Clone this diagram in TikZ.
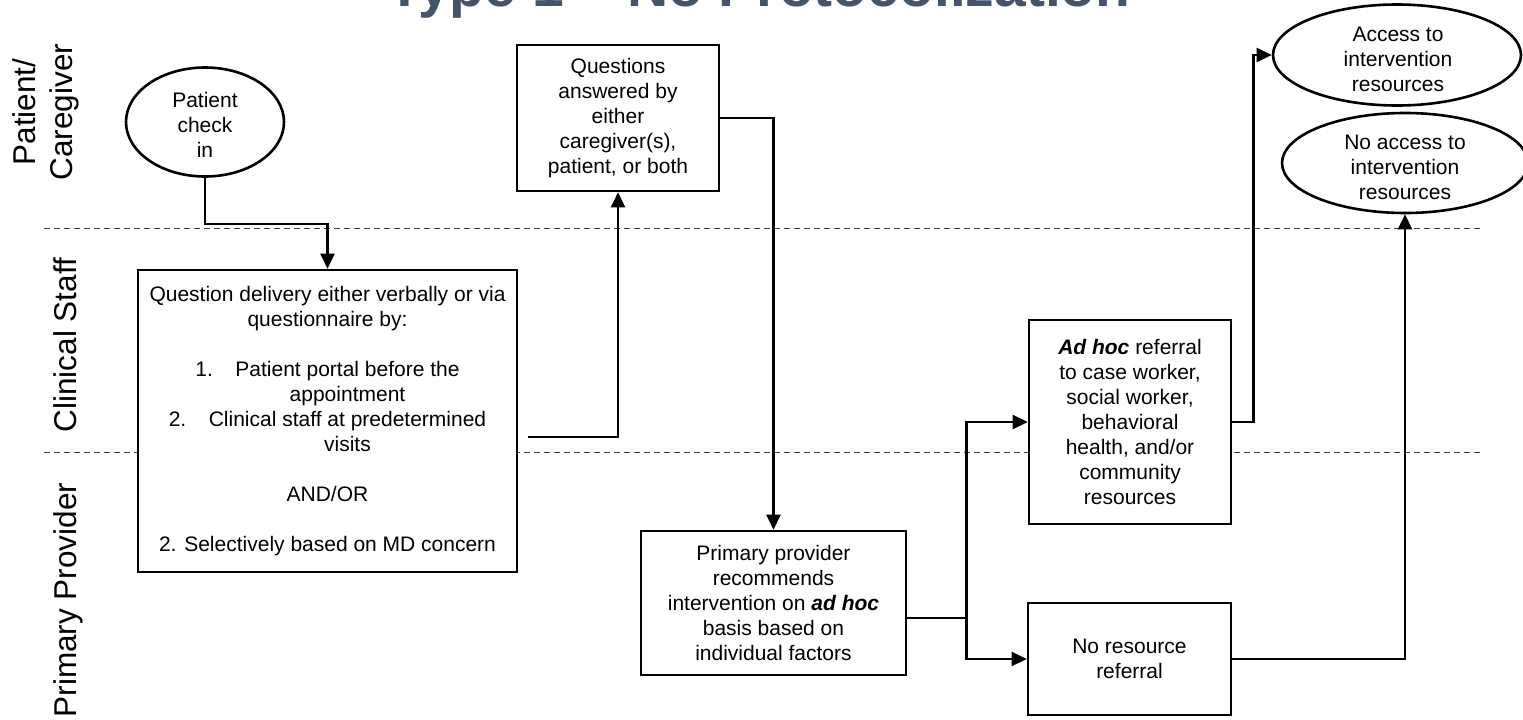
\documentclass[tikz,border=0pt]{standalone}
\usepackage{fontspec}
\setmainfont{Liberation Sans}
\usetikzlibrary{shapes.geometric,arrows.meta}
\definecolor{titleslate}{HTML}{44546A}
\definecolor{lanegray}{HTML}{404040}

\begin{document}
\begin{tikzpicture}[x=1pt,y=-1pt,
  stepbox/.style={draw, line width=2.6pt, fill=white, inner sep=0pt, align=center,
                  font=\fontsize{21}{25}\selectfont},
  oval/.style={ellipse, draw, line width=2.6pt, fill=white, inner sep=0pt},
  ovaltext/.style={align=center, inner sep=0pt, font=\fontsize{21}{25}\selectfont},
  flow/.style={line width=2.4pt, -{Triangle[length=15pt,width=14pt]}},
  link/.style={line width=2.4pt},
  lane/.style={rotate=90, align=center, inner sep=0pt, font=\fontsize{31.5}{37}\selectfont},
  lanesep/.style={line width=1pt, draw=lanegray, dash pattern=on 6pt off 4pt},
  heading/.style={text=titleslate, inner sep=0pt, font=\fontsize{57}{64}\selectfont\bfseries}]

\useasboundingbox (0,0) rectangle (1523,720);

% page heading (runs off the top edge)
\node[heading, anchor=base] (ttl) at (759,6) {Type 1 – No Protocolization};

% swimlane separators
\draw[lanesep] (44,228) -- (1483,228);
\draw[lanesep] (44,452) -- (1483,452);

% lane names
\node[lane] (lanePC) at (46,112) {Patient/\\Caregiver};
\node[lane, anchor=base] (laneCS) at (76,345) {Clinical Staff};
\node[lane, anchor=base] (lanePP) at (76,600) {Primary Provider};

% start / end ovals
\node[oval, minimum width=158pt, minimum height=109pt] (pci) at (205,122) {};
\node[ovaltext] (pcit) at (205,125) {Patient\\check\\in};
\node[oval, minimum width=248pt, minimum height=101pt] (acc) at (1397,55) {};
\node[ovaltext] (acct) at (1398,59) {Access to\\intervention\\resources};
\node[oval, minimum width=246pt, minimum height=100pt] (noacc) at (1405,163) {};
\node[ovaltext] (noacct) at (1405,167) {No access to\\intervention\\resources};

% process boxes
\node[stepbox, minimum width=379pt, minimum height=302pt] (q1) at (327.5,421) {%
  Question delivery either verbally or via\\
  questionnaire by:\\[25pt]
  \hspace*{40pt}\llap{\makebox[40pt][l]{1.}}Patient portal before the\\
  \hspace*{40pt}appointment\\
  \hspace*{40pt}\llap{\makebox[40pt][l]{2.}}Clinical staff at predetermined\\
  \hspace*{40pt}visits\\[25pt]
  AND/OR\\[25pt]
  2. Selectively based on MD concern};

\node[stepbox, minimum width=202pt, minimum height=146pt] (q2) at (618,118)
  {Questions\\answered by\\either\\caregiver(s),\\patient, or both};

\node[stepbox, minimum width=265pt, minimum height=144pt] (pp) at (773.5,603)
  {Primary provider\\recommends\\intervention on \textbf{\textit{ad hoc}}\\basis based on\\individual factors};

\node[stepbox, minimum width=202pt, minimum height=204pt] (ah) at (1130,422)
  {\textbf{\textit{Ad hoc}} referral\\to case worker,\\social worker,\\behavioral\\health, and/or\\community\\resources};

\node[stepbox, minimum width=203pt, minimum height=112pt] (nr) at (1129.5,659)
  {No resource\\referral};

% connectors
\draw[flow] (pci.south) -- ++(0,46) -| (q1.north);
\draw[flow] ([shift={(10,16)}]q1.east) -| (q2.south);
\draw[flow] (q2.east) -| (pp.north);
\coordinate (fork) at ([shift={(59,15)}]pp.east);
\draw[link] (pp.east |- fork) -- (fork);
\draw[flow] (fork) |- (ah.west);
\draw[flow] (fork) |- (nr.west);
\draw[flow] (ah.east) -- ++(21,0) |- (acc.west);
\draw[flow] (nr.east) -| (noacc.south);

\end{tikzpicture}
\end{document}
